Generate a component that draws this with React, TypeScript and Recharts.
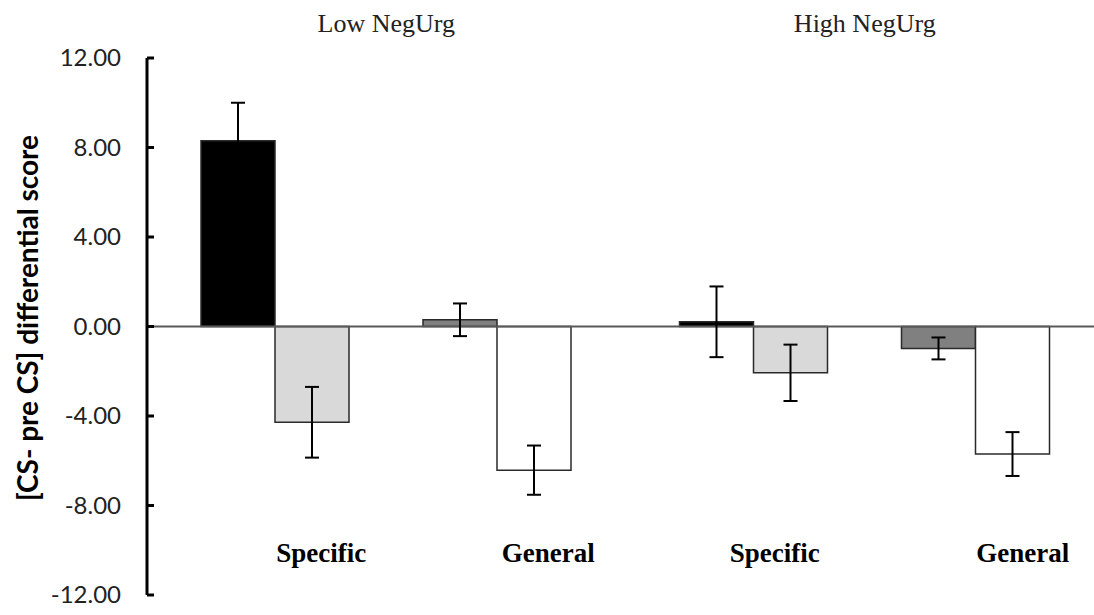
import React from "react";
import {
  BarChart,
  Bar,
  XAxis,
  YAxis,
  ErrorBar,
  ReferenceLine,
} from "recharts";

// groups along the x axis and the two conditions inside each
const groups = ["Low NegUrg", "High NegUrg"];
const subLabels = ["Specific", "General"];

// bar means, in plot order within each group
const specificA = [8.3, 0.21];
const specificB = [-4.28, -2.07];
const generalA = [0.3, -0.98];
const generalB = [-6.42, -5.7];

// standard errors
const specificAErr = [1.7, 1.58];
const specificBErr = [1.58, 1.26];
const generalAErr = [0.73, 0.49];
const generalBErr = [1.1, 0.98];

const yTicks = [-12, -8, -4, 0, 4, 8, 12];

const data = groups.map((g, i) => ({
  group: g,
  specificA: specificA[i],
  specificB: specificB[i],
  generalA: generalA[i],
  generalB: generalB[i],
  specificAErr: specificAErr[i],
  specificBErr: specificBErr[i],
  generalAErr: generalAErr[i],
  generalBErr: generalBErr[i],
}));

// layout
const MARGIN_LEFT = 10;
const Y_AXIS_WIDTH = 137;
const AXIS_X = MARGIN_LEFT + Y_AXIS_WIDTH;
const SUB_DX = [
  [-65, 162],
  [-90, 158],
];

const TEXT = "#222";
const SANS = "Lato, 'Open Sans', sans-serif";
const SERIF = "'Liberation Serif', 'DejaVu Serif', serif";

const YTick = ({ x, y, payload }: any) => (
  <g>
    <line x1={AXIS_X} x2={AXIS_X + 7} y1={y} y2={y} stroke="#000" strokeWidth={3} />
    <text
      x={x}
      y={y}
      dy={8}
      textAnchor="end"
      fill={TEXT}
      style={{ fontFamily: SANS, fontSize: 24 }}
    >
      {Number(payload.value).toFixed(2)}
    </text>
  </g>
);

const GroupTick = ({ x, y, payload }: any) => (
  <text
    x={x}
    y={y}
    textAnchor="middle"
    fill={TEXT}
    style={{ fontFamily: SERIF, fontSize: 26 }}
  >
    {payload.value}
  </text>
);

const SubTick = ({ x, y, index }: any) => (
  <g>
    {subLabels.map((s, j) => (
      <text
        key={s}
        x={x + SUB_DX[index][j]}
        y={y - 33}
        textAnchor="middle"
        fill="#000"
        style={{ fontFamily: SERIF, fontSize: 27, fontWeight: 700 }}
      >
        {s}
      </text>
    ))}
  </g>
);

const YTitle = () => (
  <text
    x={27}
    y={318}
    transform="rotate(-90, 27, 318)"
    textAnchor="middle"
    dominantBaseline="central"
    fill="#000"
    style={{ fontFamily: SANS, fontSize: 28, fontWeight: 700 }}
  >
    [CS- pre CS] differential score
  </text>
);

const BAR_STROKE = "#2a2a2a";

export default function App() {
  return (
    <div
      style={{
        position: "absolute",
        left: 0,
        top: 0,
        width: 1094,
        height: 615,
        overflow: "hidden",
        background: "#fff",
      }}
    >
      <BarChart
        width={1104}
        height={615}
        data={data}
        barGap={0}
        barSize={74}
        margin={{ top: 0, right: 0, bottom: 0, left: MARGIN_LEFT }}
      >
        <XAxis
          xAxisId="top"
          dataKey="group"
          orientation="top"
          height={58}
          axisLine={false}
          tickLine={false}
          tickSize={0}
          tickMargin={26}
          tick={<GroupTick />}
        />
        <XAxis
          xAxisId="bottom"
          dataKey="group"
          orientation="bottom"
          height={20}
          axisLine={false}
          tickLine={false}
          tickSize={0}
          tickMargin={0}
          tick={<SubTick />}
        />
        <YAxis
          domain={[-12, 12]}
          ticks={yTicks}
          interval={0}
          width={Y_AXIS_WIDTH}
          axisLine={{ stroke: "#000", strokeWidth: 3 }}
          tickLine={false}
          tickSize={0}
          tickMargin={26}
          tick={<YTick />}
          label={<YTitle />}
        />
        <ReferenceLine xAxisId="top" y={0} stroke="#595959" strokeWidth={1.8} />
        <Bar xAxisId="top" dataKey="specificA" fill="#000" stroke={BAR_STROKE} strokeWidth={1.5} isAnimationActive={false}>
          <ErrorBar dataKey="specificAErr" width={7} stroke="#000" strokeWidth={2} />
        </Bar>
        <Bar xAxisId="top" dataKey="specificB" fill="#d9d9d9" stroke={BAR_STROKE} strokeWidth={1.5} isAnimationActive={false}>
          <ErrorBar dataKey="specificBErr" width={7} stroke="#000" strokeWidth={2} />
        </Bar>
        <Bar xAxisId="top" dataKey="spacer" fill="none" isAnimationActive={false} />
        <Bar xAxisId="top" dataKey="generalA" fill="#808080" stroke={BAR_STROKE} strokeWidth={1.5} isAnimationActive={false}>
          <ErrorBar dataKey="generalAErr" width={7} stroke="#000" strokeWidth={2} />
        </Bar>
        <Bar xAxisId="top" dataKey="generalB" fill="#fff" stroke={BAR_STROKE} strokeWidth={1.5} isAnimationActive={false}>
          <ErrorBar dataKey="generalBErr" width={7} stroke="#000" strokeWidth={2} />
        </Bar>
      </BarChart>
    </div>
  );
}
